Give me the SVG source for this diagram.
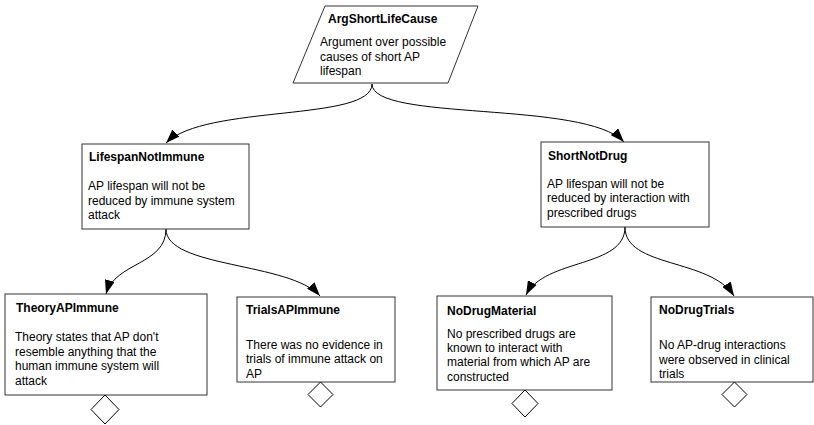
<svg xmlns="http://www.w3.org/2000/svg" width="814" height="425" viewBox="0 0 814 425">
  <style>
    .box { fill: #ffffff; stroke: #333333; stroke-width: 1; }
    .title { font-family: "Liberation Sans", Arial, sans-serif; font-size: 12px; font-weight: bold; fill: #000000; }
    .body { font-family: "Liberation Sans", Arial, sans-serif; font-size: 12px; fill: #000000; }
    .link { fill: none; stroke: #000000; stroke-width: 1; }
    .undev { fill: #ffffff; stroke: #000000; stroke-width: 1; }
  </style>
  <defs>
    <marker id="arrow" viewBox="0 0 14 10" refX="14" refY="5" markerWidth="14" markerHeight="10" markerUnits="userSpaceOnUse" orient="auto">
      <path d="M0,0 L14,5 L0,10 Z" fill="#000000"/>
    </marker>
  </defs>

  <rect width="814" height="425" fill="#ffffff"/>

  <!-- connectors -->
  <g id="connectors">
    <path class="link" d="M372,84 C372,122 205,104 166,143" marker-end="url(#arrow)"/>
    <path class="link" d="M372,84 C372,122 585,100 624,142" marker-end="url(#arrow)"/>
    <path class="link" d="M166,229 C166,265 115,262 106,294" marker-end="url(#arrow)"/>
    <path class="link" d="M166,229 C166,268 290,262 320,296" marker-end="url(#arrow)"/>
    <path class="link" d="M625,227 C625,268 545,258 526,295" marker-end="url(#arrow)"/>
    <path class="link" d="M625,227 C625,268 710,258 734,296" marker-end="url(#arrow)"/>
  </g>

  <!-- strategy -->
  <g id="ArgShortLifeCause">
    <polygon class="box" points="325,6 478,6 448,83 293,83"/>
    <text class="title" x="328" y="23">ArgShortLifeCause</text>
    <text class="body" x="320" y="46">Argument over possible</text>
    <text class="body" x="320" y="60.5">causes of short AP</text>
    <text class="body" x="320" y="75">lifespan</text>
  </g>

  <!-- goals -->
  <g id="LifespanNotImmune">
    <rect class="box" x="82" y="144" width="167" height="85"/>
    <text class="title" x="89" y="161">LifespanNotImmune</text>
    <text class="body" x="88" y="190">AP lifespan will not be</text>
    <text class="body" x="88" y="204.5">reduced by immune system</text>
    <text class="body" x="88" y="219">attack</text>
  </g>

  <g id="ShortNotDrug">
    <rect class="box" x="541" y="142" width="168" height="85"/>
    <text class="title" x="548" y="159.5">ShortNotDrug</text>
    <text class="body" x="547" y="187.5">AP lifespan will not be</text>
    <text class="body" x="547" y="202">reduced by interaction with</text>
    <text class="body" x="547" y="216.5">prescribed drugs</text>
  </g>

  <g id="TheoryAPImmune">
    <rect class="box" x="5" y="294" width="202" height="101"/>
    <text class="title" x="16" y="312">TheoryAPImmune</text>
    <text class="body" x="15" y="341">Theory states that AP don't</text>
    <text class="body" x="15" y="355.5">resemble anything that the</text>
    <text class="body" x="15" y="370">human immune system will</text>
    <text class="body" x="15" y="384.5">attack</text>
    <polygon class="undev" points="105,395 119,409.5 105,424 91,409.5"/>
  </g>

  <g id="TrialsAPImmune">
    <rect class="box" x="237" y="297" width="158" height="85"/>
    <text class="title" x="246" y="314">TrialsAPImmune</text>
    <text class="body" x="246" y="348.5">There was no evidence in</text>
    <text class="body" x="246" y="363">trials of immune attack on</text>
    <text class="body" x="246" y="377.5">AP</text>
    <polygon class="undev" points="320.5,382 333,394.5 320.5,407 308,394.5"/>
  </g>

  <g id="NoDrugMaterial">
    <rect class="box" x="437" y="296" width="175" height="94"/>
    <text class="title" x="447" y="315">NoDrugMaterial</text>
    <text class="body" x="447" y="337.5">No prescribed drugs are</text>
    <text class="body" x="447" y="352">known to interact with</text>
    <text class="body" x="447" y="366">material from which AP are</text>
    <text class="body" x="447" y="380.5">constructed</text>
    <polygon class="undev" points="525,390 538,403.5 525,417 512,403.5"/>
  </g>

  <g id="NoDrugTrials">
    <rect class="box" x="651" y="297" width="162" height="85"/>
    <text class="title" x="659" y="314">NoDrugTrials</text>
    <text class="body" x="659" y="349">No AP-drug interactions</text>
    <text class="body" x="659" y="363.5">were observed in clinical</text>
    <text class="body" x="659" y="378">trials</text>
    <polygon class="undev" points="734.5,382 747,394.5 734.5,407 722,394.5"/>
  </g>
</svg>
